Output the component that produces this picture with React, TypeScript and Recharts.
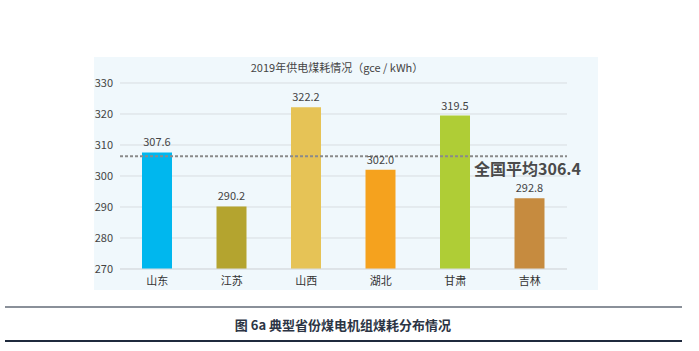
import { BarChart, Bar, XAxis, YAxis, CartesianGrid, ReferenceLine, LabelList, Cell } from "recharts";

const provinces = ["山东", "江苏", "山西", "湖北", "甘肃", "吉林"];
const coalUse = [307.6, 290.2, 322.2, 302.0, 319.5, 292.8];
const barColors = ["#00B7EE", "#B4A42F", "#E6C356", "#F5A21E", "#AFCD36", "#C68B3F"];
const yTicks = [270, 280, 290, 300, 310, 320, 330];
const nationalAvg = 306.4;

const data = provinces.map((name, i) => ({ name, value: coalUse[i] }));

const font = '"Noto Sans CJK SC", "Noto Sans", sans-serif';

const AvgLabel = (props: any) => {
	const { viewBox } = props;
	if (!viewBox) return null;
	return (
		<text
			x={viewBox.x + viewBox.width - 93}
			y={viewBox.y + 19}
			fill="#4a4a4a"
			fontSize={16}
			fontWeight="bold"
			fontFamily={font}
		>
			全国平均306.4
		</text>
	);
};

const App = () => {
	return (
		<div style={{ position: "absolute", left: 0, top: 0, width: 699, height: 351, background: "#fff", fontFamily: font }}>
			<div style={{ position: "absolute", left: 94, top: 57, width: 504, height: 233, background: "#F0F8FC" }}>
				<div style={{ position: "absolute", left: 0, width: 486, top: 2, textAlign: "center", fontSize: 11, color: "#444" }}>
					2019年供电煤耗情况（gce / kWh）
				</div>
				<BarChart
					width={504}
					height={233}
					data={data}
					margin={{ top: 26, right: 31, bottom: 0, left: 0 }}
				>
					<CartesianGrid vertical={false} stroke="#d8dde1" />
					<XAxis
						dataKey="name"
						axisLine={{ stroke: "#d8dde1" }}
						tickLine={false}
						height={21}
						tick={{ fontSize: 11, fill: "#333", fontFamily: font }}
					/>
					<YAxis
						domain={[270, 330]}
						ticks={yTicks}
						width={26}
						axisLine={false}
						tickLine={false}
						tickSize={0}
						tickMargin={7}
						tick={{ fontSize: 11, fill: "#444", fontFamily: font }}
					/>
					<Bar dataKey="value" barSize={30} isAnimationActive={false}>
						{data.map((d, i) => (
							<Cell key={d.name} fill={barColors[i]} />
						))}
						<LabelList dataKey="value" position="top" offset={6} formatter={(v: any) => Number(v).toFixed(1)} style={{ fontSize: 11, fill: "#444", fontFamily: font }} />
					</Bar>
					<ReferenceLine
						y={nationalAvg}
						stroke="#8a8a8a"
						strokeWidth={2}
						strokeDasharray="3 2"
						label={<AvgLabel />}
					/>
				</BarChart>
			</div>
			<div style={{ position: "absolute", left: 5, width: 677, top: 306, height: 2, background: "#8a9099" }} />
			<div style={{ position: "absolute", left: 0, width: 686, top: 315, textAlign: "center", fontSize: 13, fontWeight: "bold", color: "#2c3444" }}>
				图 6a 典型省份煤电机组煤耗分布情况
			</div>
			<div style={{ position: "absolute", left: 5, width: 677, top: 340, height: 2, background: "#1f2a3d" }} />
		</div>
	);
};

export default App;
